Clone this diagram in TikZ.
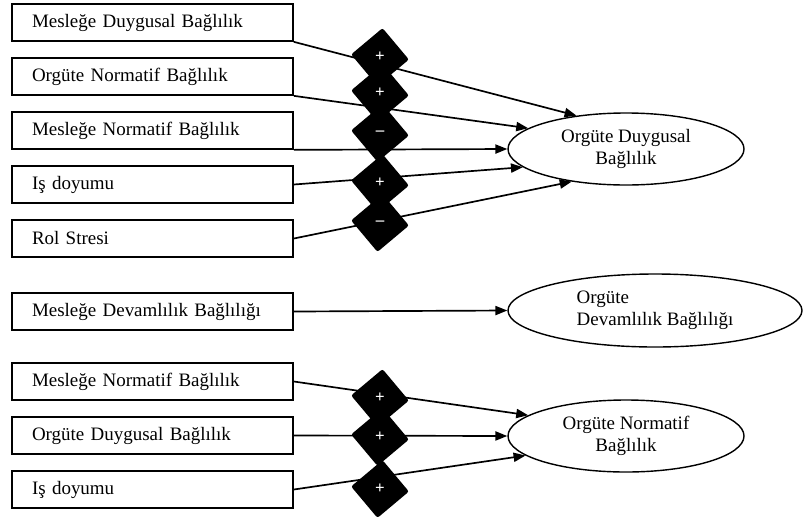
\documentclass[tikz,border=0pt]{standalone}
\usepackage{fontspec}
\setmainfont{Liberation Serif}
\usepackage{tikz}
\usetikzlibrary{shapes.geometric,arrows.meta,positioning}

\begin{document}
\begin{tikzpicture}[
    node distance=1.35cm,
    box/.style={rectangle, draw, line width=1.2pt, minimum width=7.025cm, text width=6.025cm, inner xsep=0.5cm, align=left, minimum height=0.925cm, font=\fontsize{13.5}{15}\selectfont},
    oval/.style={ellipse, draw, line width=1pt, inner sep=0pt, align=center, font=\fontsize{13.5}{16}\selectfont},
    sign/.style={regular polygon, regular polygon sides=4, shape border rotate=40, fill=black, rounded corners=1.5pt, minimum size=1.45cm, inner sep=0pt, text=white, font=\fontsize{12}{14}\selectfont\bfseries},
    arrow/.style={-{Triangle[length=8.5pt,width=6.5pt]}, line width=1.2pt}
]
    \useasboundingbox (0,0) rectangle (20.075,-12.9);

    % predictors
    \node[box] (mesduy) at (3.8125,-0.5625) {Mesleğe Duygusal Bağlılık};
    \node[box, below of=mesduy] (orgnor) {Orgüte Normatif Bağlılık};
    \node[box, below of=orgnor] (mesnor) {Mesleğe Normatif Bağlılık};
    \node[box, below of=mesnor] (isdoy) {Iş doyumu};
    \node[box, below of=isdoy] (rolstr) {Rol Stresi};
    \node[box, below of=rolstr, yshift=-0.475cm] (mesdev) {Mesleğe Devamlılık Bağlılığı};
    \node[box, below of=mesdev, yshift=-0.4cm] (mesnorb) {Mesleğe Normatif Bağlılık};
    \node[box, below of=mesnorb] (orgduy) {Orgüte Duygusal Bağlılık};
    \node[box, below of=orgduy] (isdoyb) {Iş doyumu};

    % outcomes
    \node[oval, minimum width=5.9cm, minimum height=1.8cm] (duygusal) at (15.65,-3.725) {Orgüte Duygusal\\Bağlılık};
    \node[oval, minimum width=7.35cm, minimum height=1.825cm, align=left] (devam) at (16.375,-7.7625) {Orgüte\\Devamlılık Bağlılığı};
    \node[oval, minimum width=5.9cm, minimum height=1.8cm] (normatif) at (15.65,-10.9) {Orgüte Normatif\\Bağlılık};

    \draw[arrow] (mesduy.south east) -- (duygusal.146);
    \draw[arrow] (orgnor.south east) -- (duygusal.168);
    \draw[arrow] (mesnor.south east) -- (duygusal.west);
    \draw[arrow] (isdoy.east) -- (duygusal.190);
    \draw[arrow] (rolstr.east) -- (duygusal.211);
    \draw[arrow] (mesdev.east) -- (devam.west);
    \draw[arrow] (mesnorb.east) -- (normatif.168);
    \draw[arrow] (orgduy.east) -- (normatif.west);
    \draw[arrow] (isdoyb.east) -- (normatif.191);

    % signs
    \node[sign] (s1) at (9.5,-1.425) {+};
    \node[sign] (s2) at (9.5,-2.325) {+};
    \node[sign] (s3) at (9.5,-3.325) {--};
    \node[sign] (s4) at (9.5,-4.575) {+};
    \node[sign] (s5) at (9.5,-5.575) {--};
    \node[sign] (s6) at (9.5,-9.95) {+};
    \node[sign] (s7) at (9.5,-10.925) {+};
    \node[sign] (s8) at (9.5,-12.225) {+};
\end{tikzpicture}
\end{document}
